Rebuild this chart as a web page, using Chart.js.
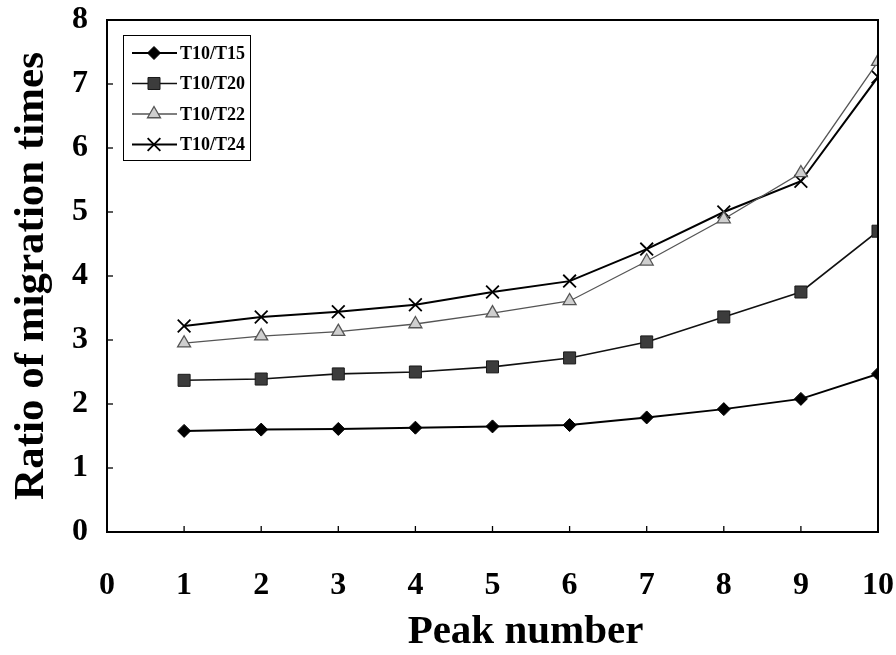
<!DOCTYPE html>
<html>
<head>
<meta charset="utf-8">
<script src="https://cdn.jsdelivr.net/npm/chart.js@4/dist/chart.umd.min.js"></script>
<style>
  body { margin: 0; background: #fff; }
  canvas { display: block; }
</style>
</head>
<body>
<canvas id="ratioChart" width="896" height="655"></canvas>
<script>
// номера пиков и отношения времен миграции
var peaks = [1, 2, 3, 4, 5, 6, 7, 8, 9, 10];
var seriesNames = ['T10/T15', 'T10/T20', 'T10/T22', 'T10/T24'];
var t15 = [1.58, 1.60, 1.61, 1.63, 1.65, 1.67, 1.79, 1.92, 2.08, 2.47];
var t20 = [2.37, 2.39, 2.47, 2.50, 2.58, 2.72, 2.97, 3.36, 3.75, 4.70];
var t22 = [2.95, 3.06, 3.13, 3.25, 3.42, 3.61, 4.23, 4.89, 5.61, 7.35];
var t24 = [3.22, 3.36, 3.44, 3.55, 3.75, 3.92, 4.42, 5.00, 5.48, 7.11];
var xTitle = 'Peak number';
var yTitle = 'Ratio of migration times';

var serif = "'Liberation Serif', 'Times New Roman', serif";

function toPoints(values){ // склеиваем номера пиков со значениями
    return peaks.map(function(p, i){ return {x: p, y: values[i]}; });
}

function noPad(scale){ // убираем авто-отступы от подписей, отступы задаем сами
    scale.paddingLeft = 0; scale.paddingRight = 0;
    scale.paddingTop = 0; scale.paddingBottom = 0;
}

// рамка вокруг области графика и короткие засечки внутрь
var framePlugin = {
    id: 'frame',
    afterDraw: function(chart){
        var ctx = chart.ctx, a = chart.chartArea;
        var xs = chart.scales.x, ys = chart.scales.y;
        ctx.save();
        ctx.strokeStyle = '#000';
        ctx.lineWidth = 1.3;
        ys.ticks.forEach(function(t){
            var py = ys.getPixelForValue(t.value);
            ctx.beginPath(); ctx.moveTo(a.left, py); ctx.lineTo(a.left + 6, py); ctx.stroke();
        });
        xs.ticks.forEach(function(t){
            var px = xs.getPixelForValue(t.value);
            ctx.beginPath(); ctx.moveTo(px, a.bottom); ctx.lineTo(px, a.bottom - 6); ctx.stroke();
        });
        ctx.lineWidth = 2;
        ctx.strokeRect(a.left, a.top, a.right - a.left, a.bottom - a.top);
        // подпись оси X немного правее центра, как в оригинале
        ctx.fillStyle = '#000';
        ctx.font = 'bold 41px ' + serif;
        ctx.textAlign = 'center';
        ctx.textBaseline = 'alphabetic';
        ctx.fillText(xTitle, (a.left + a.right) / 2 + 33, 643);
        ctx.restore();
    }
};

// легенда в рамке: линия + маркер + подпись
var legendPlugin = {
    id: 'boxLegend',
    afterDraw: function(chart){
        var ctx = chart.ctx;
        ctx.save();
        ctx.strokeStyle = '#000';
        ctx.lineWidth = 1;
        ctx.strokeRect(123.5, 35.5, 127, 125);
        chart.data.datasets.forEach(function(ds, i){
            var y = 53 + i * 30.5;
            ctx.strokeStyle = ds.borderColor;
            ctx.lineWidth = ds.borderWidth;
            ctx.beginPath(); ctx.moveTo(132, y); ctx.lineTo(177, y); ctx.stroke();
            ctx.fillStyle = ds.pointBackgroundColor;
            ctx.strokeStyle = ds.pointBorderColor;
            ctx.lineWidth = ds.pointBorderWidth;
            Chart.helpers.drawPoint(ctx, {pointStyle: ds.pointStyle, radius: ds.pointRadius, rotation: 0, borderWidth: ds.pointBorderWidth}, 154, y);
            ctx.fillStyle = '#000';
            ctx.font = 'bold 18px ' + serif;
            ctx.textAlign = 'left';
            ctx.textBaseline = 'middle';
            ctx.fillText(ds.label, 180, y + 1);
        });
        ctx.restore();
    }
};

var ctxChart = document.getElementById('ratioChart').getContext('2d');
var ratioChart = new Chart(ctxChart, {
    type: 'line',
    data: {
        datasets: [{
            label: seriesNames[0],
            data: toPoints(t15),
            borderColor: '#000', borderWidth: 2,
            pointStyle: 'rectRot', pointRadius: 6.5,
            pointBackgroundColor: '#000', pointBorderColor: '#000', pointBorderWidth: 1
        }, {
            label: seriesNames[1],
            data: toPoints(t20),
            borderColor: '#111', borderWidth: 1.6,
            pointStyle: 'rect', pointRadius: 8.5,
            pointBackgroundColor: '#3c3c3c', pointBorderColor: '#1a1a1a', pointBorderWidth: 1
        }, {
            label: seriesNames[2],
            data: toPoints(t22),
            borderColor: '#555', borderWidth: 1.3,
            pointStyle: 'triangle', pointRadius: 7.5,
            pointBackgroundColor: '#cfcfcf', pointBorderColor: '#555', pointBorderWidth: 1.3
        }, {
            label: seriesNames[3],
            data: toPoints(t24),
            borderColor: '#000', borderWidth: 2,
            pointStyle: 'crossRot', pointRadius: 9,
            pointBackgroundColor: '#000', pointBorderColor: '#000', pointBorderWidth: 1.8
        }]
    },
    options: {
        responsive: false,
        animation: false,
        layout: {padding: {top: 20, right: 18, left: 0, bottom: 0}},
        elements: {line: {tension: 0, fill: false}},
        plugins: {legend: {display: false}, tooltip: {enabled: false}},
        scales: {
            x: {
                type: 'linear', min: 0, max: 10,
                grid: {display: false, drawTicks: false},
                border: {display: false},
                ticks: {stepSize: 1, padding: 35, color: '#000', font: {family: serif, size: 32, weight: 'bold'}},
                afterFit: function(scale){ scale.height = 123; noPad(scale); }
            },
            y: {
                min: 0, max: 8,
                grid: {display: false, drawTicks: false},
                border: {display: false},
                ticks: {stepSize: 1, padding: 19, color: '#000', font: {family: serif, size: 32, weight: 'bold'}},
                title: {display: true, text: yTitle, color: '#000', padding: {top: 6, bottom: 0}, font: {family: serif, size: 43, weight: 'bold'}},
                afterFit: function(scale){ scale.width = 107; noPad(scale); }
            }
        }
    },
    plugins: [framePlugin, legendPlugin]
});
</script>
</body>
</html>
